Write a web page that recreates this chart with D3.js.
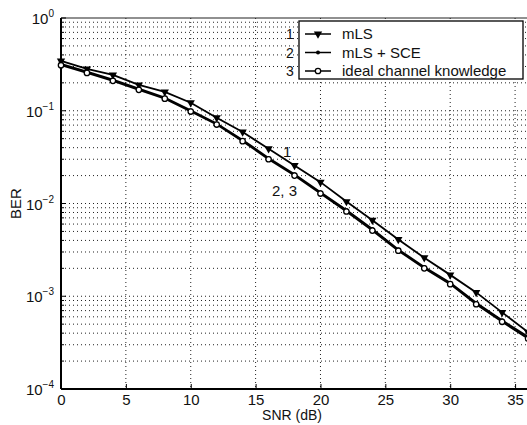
<!DOCTYPE html>
<html>
<head>
<meta charset="utf-8">
<script src="https://cdn.jsdelivr.net/npm/d3@7"></script>
<style>
  body { margin: 0; background: #fff; }
  text { font-family: "Liberation Sans", Arial, sans-serif; fill: #111; }
</style>
</head>
<body>
<div id="chart"></div>
<script>
(function () {
var width = 527, height = 425;

// data
var snr = [0, 2, 4, 6, 8, 10, 12, 14, 16, 18, 20, 22, 24, 26, 28, 30, 32, 34, 36];
var berMLS = [0.345, 0.283, 0.244, 0.19, 0.16, 0.122, 0.084, 0.059, 0.039, 0.0257, 0.017,
  0.0105, 0.0066, 0.0041, 0.0026, 0.0017, 0.0011, 0.00067, 0.00041];
var berSCE = [0.32, 0.264, 0.216, 0.173, 0.139, 0.101, 0.073, 0.0485, 0.031, 0.0207, 0.0132,
  0.0085, 0.0053, 0.0032, 0.00207, 0.0014, 0.00085, 0.00055, 0.000365];
var berIdeal = [0.31, 0.256, 0.21, 0.168, 0.135, 0.098, 0.071, 0.047, 0.030, 0.020, 0.0128,
  0.0082, 0.0051, 0.0031, 0.0020, 0.00135, 0.00082, 0.00053, 0.00035];
var xTicks = [0, 5, 10, 15, 20, 25, 30, 35];
var yExps = [0, -1, -2, -3, -4];
var legendNames = ["mLS", "mLS + SCE", "ideal channel knowledge"];

var left = 61, right = 530, top = 18, bottom = 389;

var x = d3.scaleLinear().domain([0, 36.15]).range([left, right]);
var y = d3.scaleLog().domain([1e-4, 1]).range([bottom, top]);

var svg = d3.select("#chart").append("svg")
  .attr("width", width).attr("height", height);

// grid
var minorVals = [];
for (var e = -4; e < 0; e++) {
  for (var m = 1; m < 10; m++) minorVals.push(m * Math.pow(10, e));
}
svg.append("g").selectAll("line").data(minorVals.filter(function (v) { return v > 1e-4; }))
  .enter().append("line")
  .attr("x1", left).attr("x2", right)
  .attr("y1", function (d) { return y(d); }).attr("y2", function (d) { return y(d); })
  .attr("stroke", "#222").attr("stroke-width", 1).attr("stroke-dasharray", "1,3");

svg.append("g").selectAll("line").data(xTicks.slice(1))
  .enter().append("line")
  .attr("x1", function (d) { return x(d); }).attr("x2", function (d) { return x(d); })
  .attr("y1", top).attr("y2", bottom)
  .attr("stroke", "#222").attr("stroke-width", 1).attr("stroke-dasharray", "1,3");

// frame
svg.append("line").attr("x1", left).attr("x2", right).attr("y1", top).attr("y2", top)
  .attr("stroke", "#222").attr("stroke-width", 1.2);
svg.append("line").attr("x1", left).attr("x2", left).attr("y1", top).attr("y2", bottom)
  .attr("stroke", "#000").attr("stroke-width", 2);
svg.append("line").attr("x1", left).attr("x2", right).attr("y1", bottom).attr("y2", bottom)
  .attr("stroke", "#000").attr("stroke-width", 2);

// x axis
var xAxis = d3.axisBottom(x).tickValues(xTicks).tickSize(-5).tickPadding(5).tickFormat(d3.format("d"));
var gx = svg.append("g").attr("transform", "translate(0," + bottom + ")").call(xAxis);
gx.select(".domain").remove();
gx.selectAll(".tick line").attr("stroke", "#000");
gx.selectAll("text").attr("font-size", 15).attr("font-family", "Liberation Sans, Arial, sans-serif").style("fill", "#111");

// y axis ticks (inward)
var gy = svg.append("g").attr("transform", "translate(" + left + ",0)");
gy.selectAll("line").data(minorVals.concat([1])).enter().append("line")
  .attr("x1", 0).attr("x2", function (d) { return Math.abs(Math.log10(d) % 1) < 1e-9 ? 5 : 3; })
  .attr("y1", function (d) { return y(d); }).attr("y2", function (d) { return y(d); })
  .attr("stroke", "#000");

var yl = gy.selectAll("text").data(yExps).enter().append("text")
  .attr("x", -7).attr("y", function (d) { return y(Math.pow(10, d)) + 6; })
  .attr("text-anchor", "end").attr("font-size", 15);
yl.append("tspan").text("10");
yl.append("tspan").attr("dy", -7).attr("font-size", 10).text(function (d) { return d === 0 ? "0" : "\u2212" + (-d); });

// axis titles
svg.append("text").attr("x", 292).attr("y", 420).attr("text-anchor", "middle")
  .attr("font-size", 14).text("SNR (dB)");
svg.append("text").attr("transform", "translate(21," + y(0.01) + ") rotate(-90)")
  .attr("text-anchor", "middle").attr("font-size", 15).text("BER");

// curves
var series = [
  { vals: berMLS, marker: "tri" },
  { vals: berSCE, marker: "dot" },
  { vals: berIdeal, marker: "circ" }
];
var line = d3.line().x(function (d) { return x(d[0]); }).y(function (d) { return y(d[1]); });
var tri = d3.symbol().type(d3.symbolTriangle).size(30);

function drawMarker(g, kind) {
  if (kind === "tri") {
    g.append("path").attr("d", tri()).attr("transform", "rotate(180)").attr("fill", "#000");
  } else if (kind === "dot") {
    g.append("circle").attr("r", 2).attr("fill", "#000");
  } else {
    g.append("circle").attr("r", 2.7).attr("fill", "#fff").attr("stroke", "#000").attr("stroke-width", 1.3);
  }
}

series.forEach(function (s) {
  var pts = snr.map(function (v, i) { return [v, s.vals[i]]; });
  svg.append("path").datum(pts).attr("d", line)
    .attr("fill", "none").attr("stroke", "#000").attr("stroke-width", 1.8);
  svg.append("g").selectAll("g").data(pts).enter().append("g")
    .attr("transform", function (d) { return "translate(" + x(d[0]) + "," + y(d[1]) + ")"; })
    .each(function () { drawMarker(d3.select(this), s.marker); });
});

// curve labels
svg.append("text").attr("x", 283).attr("y", 157).attr("font-size", 15).text("1");
svg.append("text").attr("x", 272).attr("y", 196).attr("font-size", 15).text("2, 3");

// legend
var lg = svg.append("g");
lg.append("rect").attr("x", 299).attr("y", 21).attr("width", 224).attr("height", 58)
  .attr("fill", "#fff").attr("stroke", "#000").attr("stroke-width", 1.3);
legendNames.forEach(function (name, i) {
  var ry = 34 + i * 18.5;
  lg.append("text").attr("x", 286).attr("y", ry + 5).attr("font-size", 14).text(i + 1);
  lg.append("line").attr("x1", 305).attr("x2", 331).attr("y1", ry).attr("y2", ry)
    .attr("stroke", "#000").attr("stroke-width", 1.5);
  var mg = lg.append("g").attr("transform", "translate(318," + ry + ")");
  drawMarker(mg, series[i].marker);
  lg.append("text").attr("x", 342).attr("y", ry + 5).attr("font-size", 15).text(name);
});
})();
</script>
</body>
</html>
